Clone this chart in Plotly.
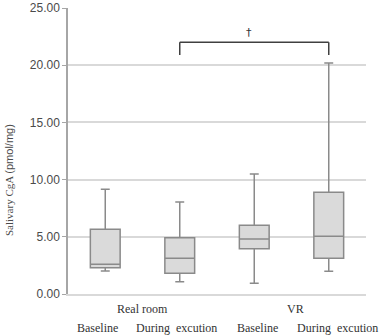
import plotly.graph_objects as go

categories = ["RB", "RD", "VB", "VD"]
upper = [9.15, 8.04, 10.49, 20.19]
q3 = [5.65, 4.92, 6.0, 8.89]
median = [2.6, 3.12, 4.81, 5.04]
q1 = [2.3, 1.81, 3.96, 3.12]
lower = [2.0, 1.08, 0.93, 1.98]

y_ticks = [0, 5, 10, 15, 20, 25]
y_tick_labels = ["0.00", "5.00", "10.00", "15.00", "20.00", "25.00"]

group_labels = ["Real room", "VR"]
sub_labels = ["Baseline", "During  excution", "Baseline", "During  excution"]

bracket_from, bracket_to = 1, 3
bracket_top, bracket_bottom = 22.0, 20.9
sig_mark = "†"

fig = go.Figure()
fig.add_trace(go.Box(
    x=categories, q1=q1, median=median, q3=q3,
    lowerfence=lower, upperfence=upper,
    boxpoints=False, fillcolor="#dadada",
    line=dict(color="#8a8a8a", width=1.5),
    width=0.4, whiskerwidth=0.3, showlegend=False, hoverinfo="skip",
))

# significance bracket
fig.add_shape(type="line", x0=bracket_from, x1=bracket_to, y0=bracket_top, y1=bracket_top,
              line=dict(color="#404040", width=1.5))
fig.add_shape(type="line", x0=bracket_from, x1=bracket_from, y0=bracket_top, y1=bracket_bottom,
              line=dict(color="#404040", width=1.5))
fig.add_shape(type="line", x0=bracket_to, x1=bracket_to, y0=bracket_top, y1=bracket_bottom,
              line=dict(color="#404040", width=1.5))
fig.add_annotation(x=(bracket_from + bracket_to) / 2 - 0.07, y=bracket_top, text=sig_mark,
                   showarrow=False, yanchor="bottom", yshift=1,
                   font=dict(family="DejaVu Sans", size=11, color="#333333"))

serif = dict(family="Liberation Serif", size=12, color="#333333")
group_x = [0.5, 2.55]
for gx, gl in zip(group_x, group_labels):
    fig.add_annotation(x=gx, y=-0.052, xref="x", yref="paper", text=gl, showarrow=False,
                       yanchor="middle", font=serif)
sub_x = [-0.1, 0.95, 2.05, 3.12]
for sx, sl in zip(sub_x, sub_labels):
    fig.add_annotation(x=sx, y=-0.118, xref="x", yref="paper", text=sl, showarrow=False,
                       yanchor="middle", font=serif)

fig.add_annotation(
    x=-0.2, y=0.4, xref="paper", yref="paper", xanchor="center", yanchor="middle",
    textangle=-90, showarrow=False,
    text='<span style="font-family:Liberation Serif">Salivary CgA</span> '
         '<span style="font-family:Liberation Sans">(pmol/mg)</span>',
    font=dict(family="Liberation Serif", size=11, color="#4a4a4a"),
)

fig.update_layout(
    width=380, height=336,
    margin=dict(l=68, r=14, t=8, b=42, autoexpand=False),
    paper_bgcolor="white", plot_bgcolor="white",
    xaxis=dict(type="category", range=[-0.5, 3.5], showticklabels=False, showgrid=False,
               zeroline=False, showline=True, linecolor="#d9d9d9", linewidth=1.5, ticks="",
               automargin=False),
    yaxis=dict(range=[0, 25], tickvals=y_ticks, ticktext=y_tick_labels, automargin=False,
               showgrid=True, gridcolor="#d9d9d9", gridwidth=1.5, zeroline=False,
               showline=True, linecolor="#a6a6a6", linewidth=1.5,
               ticks="outside", ticklen=4, tickcolor="#a6a6a6",
               tickfont=dict(family="Liberation Sans", size=12, color="#4a4a4a")),
)

fig.write_html("out.html")
